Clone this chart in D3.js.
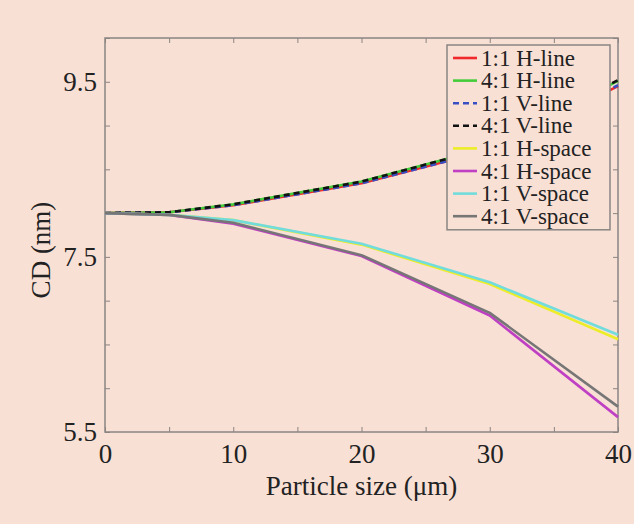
<!DOCTYPE html>
<html>
<head>
<meta charset="utf-8">
<script src="https://cdn.jsdelivr.net/npm/d3@7"></script>
<style>
  html, body { margin: 0; padding: 0; background: #f9e0d5; }
  svg { display: block; }
  text { font-family: "Liberation Serif", "Times New Roman", serif; fill: #222; }
</style>
</head>
<body>
<svg id="chart" width="634" height="524"></svg>
<script>
// Particle size (µm) at which CD was evaluated
const particleSize = [0, 5, 10, 20, 30, 40];

// CD (nm) for each pattern orientation / duty ratio
const hLine11  = [8.00, 8.01, 8.09, 8.34, 8.72, 9.45];
const hLine41  = [8.00, 8.01, 8.10, 8.36, 8.75, 9.51];
const vLine11  = [8.00, 8.01, 8.09, 8.34, 8.72, 9.46];
const vLine41  = [8.00, 8.01, 8.10, 8.36, 8.75, 9.52];
const hSpace11 = [8.00, 7.98, 7.92, 7.64, 7.19, 6.56];
const hSpace41 = [8.00, 7.98, 7.88, 7.51, 6.83, 5.67];
const vSpace11 = [8.00, 7.98, 7.92, 7.65, 7.21, 6.61];
const vSpace41 = [8.00, 7.98, 7.89, 7.52, 6.86, 5.79];

const seriesNames = ["1:1 H-line", "4:1 H-line", "1:1 V-line", "4:1 V-line",
                     "1:1 H-space", "4:1 H-space", "1:1 V-space", "4:1 V-space"];
const seriesValues = [hLine11, hLine41, vLine11, vLine41, hSpace11, hSpace41, vSpace11, vSpace41];
const seriesColors = ["#f02a2a", "#44cc3a", "#3a4fc4", "#111111",
                      "#ecec28", "#c040c4", "#72dcdc", "#767676"];
const seriesDash = [null, null, "6,4", "6,4", null, null, null, null];

const xTickLabels = [0, 10, 20, 30, 40];
const yTickLabels = [5.5, 7.5, 9.5];

const svg = d3.select("#chart");
const W = 634, H = 524;
const m = { left: 105, right: 16, top: 38, bottom: 92 };
const pw = W - m.left - m.right, ph = H - m.top - m.bottom;

svg.append("rect").attr("width", W).attr("height", H).attr("fill", "#f9e0d5");

const x = d3.scaleLinear().domain([0, 40]).range([m.left, m.left + pw]);
const y = d3.scaleLinear().domain([5.5, 10]).range([m.top + ph, m.top]);

const axisColor = "#8a8583";
const xTicks = d3.range(0, 40.001, 5);
const yTicks = d3.range(5.5, 10.001, 0.5);
const tickLen = 5;

// axes with inward ticks on all four sides
function styleAxis(g) {
  g.select(".domain").remove();
  g.selectAll(".tick line").attr("stroke", axisColor).attr("stroke-width", 1);
  g.selectAll(".tick text").attr("font-size", 27).attr("fill", "#222");
}

svg.append("g").attr("transform", `translate(0,${m.top + ph})`)
  .call(d3.axisBottom(x).tickValues(xTicks).tickSize(-tickLen).tickPadding(12)
    .tickFormat(d => xTickLabels.includes(d) ? d3.format("d")(d) : ""))
  .call(styleAxis);
svg.append("g").attr("transform", `translate(0,${m.top})`)
  .call(d3.axisTop(x).tickValues(xTicks).tickSize(-tickLen).tickFormat(""))
  .call(styleAxis);
svg.append("g").attr("transform", `translate(${m.left},0)`)
  .call(d3.axisLeft(y).tickValues(yTicks).tickSize(-tickLen).tickPadding(8)
    .tickFormat(d => yTickLabels.some(v => Math.abs(v - d) < 1e-9) ? d3.format(".1f")(d) : ""))
  .call(styleAxis);
svg.append("g").attr("transform", `translate(${m.left + pw},0)`)
  .call(d3.axisRight(y).tickValues(yTicks).tickSize(-tickLen).tickFormat(""))
  .call(styleAxis);

// plot frame
svg.append("rect").attr("x", m.left).attr("y", m.top).attr("width", pw).attr("height", ph)
  .attr("fill", "none").attr("stroke", axisColor).attr("stroke-width", 1.5);

// data lines
const line = d3.line().x((d, i) => x(particleSize[i])).y(d => y(d));
const plot = svg.append("g");
seriesValues.forEach((vals, i) => {
  plot.append("path").datum(vals).attr("d", line)
    .attr("fill", "none").attr("stroke", seriesColors[i]).attr("stroke-width", 2.6)
    .attr("stroke-dasharray", seriesDash[i]).attr("stroke-linejoin", "round");
});

// axis titles
svg.append("text").attr("x", m.left + pw / 2).attr("y", 495).attr("text-anchor", "middle")
  .attr("font-size", 27).text("Particle size (μm)");
svg.append("text").attr("transform", `translate(50,${m.top + ph / 2 + 15}) rotate(-90)`)
  .attr("text-anchor", "middle").attr("font-size", 27).text("CD (nm)");

// legend
const lg = svg.append("g");
const lgX = 447, lgY = 45, lgW = 163, rowH = 22.6;
lg.append("rect").attr("x", lgX).attr("y", lgY).attr("width", lgW).attr("height", rowH * 8 + 4)
  .attr("fill", "#f9e0d5").attr("stroke", axisColor).attr("stroke-width", 1.5);
seriesNames.forEach((name, i) => {
  const cy = lgY + 13 + i * rowH;
  lg.append("line").attr("x1", lgX + 6).attr("x2", lgX + 30).attr("y1", cy).attr("y2", cy)
    .attr("stroke", seriesColors[i]).attr("stroke-width", 2.6).attr("stroke-dasharray", seriesDash[i]);
  lg.append("text").attr("x", lgX + 34).attr("y", cy + 7.5).attr("font-size", 23).text(name);
});
</script>
</body>
</html>
